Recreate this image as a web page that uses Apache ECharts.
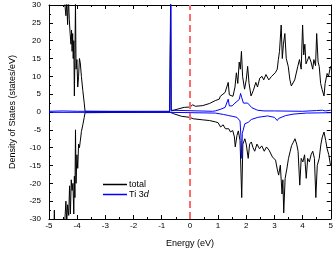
<!DOCTYPE html>
<html><head><meta charset="utf-8">
<script src="https://cdn.jsdelivr.net/npm/echarts@6/dist/echarts.min.js"></script>
<style>html,body{margin:0;padding:0;background:#fff}#c{width:336px;height:253px}</style>
</head><body><div id="c"></div>
<script>
const xTicks = [-5,-4,-3,-2,-1,0,1,2,3,4,5];
const yTicks = [-30,-25,-20,-15,-10,-5,0,5,10,15,20,25,30];
const legendNames = ['total','Ti 3d'];

const totalUpE = [-5.00,-4.80,-4.60,-4.48,-4.44,-4.40,-4.37,-4.34,-4.31,-4.28,-4.25,-4.22,-4.20,-4.18,-4.16,-4.14,-4.12,-4.10,-4.08,-4.06,-4.04,-4.01,-3.98,-3.95,-3.92,-3.89,-3.85,-3.80,-3.75,-3.72,-3.70,-0.72,-0.68,-0.66,-0.57,-0.40,-0.20,0.00,0.10,0.20,0.46,0.70,0.90,1.04,1.08,1.15,1.25,1.30,1.36,1.40,1.45,1.53,1.60,1.65,1.70,1.75,1.79,1.83,1.87,1.94,2.00,2.05,2.10,2.17,2.25,2.34,2.40,2.48,2.56,2.62,2.70,2.80,2.90,3.03,3.10,3.14,3.18,3.24,3.28,3.32,3.37,3.42,3.49,3.55,3.60,3.66,3.72,3.78,3.83,3.89,3.95,4.00,4.04,4.08,4.12,4.18,4.23,4.30,4.36,4.40,4.46,4.50,4.55,4.59,4.64,4.69,4.76,4.80,4.87,4.92,4.99];
const totalUp  = [45,42,38,34,30.5,27,31,24.5,32,26,22,19,23,17,22,15,20,4.5,16,31,12,14.7,7,10,15,13.8,10,6,2.5,0.2,0,0,35,0.3,0.5,0.9,1.3,1.4,2.0,1.6,1.8,2.4,3.2,3.6,4.4,4.2,5.5,5.2,8.3,4.8,5.2,4.4,7,11,8,14,12,17,10,6.4,9,12.8,8,4.5,6,8.3,7,9.5,10,9,10.5,9,10,11,12,14.7,17,24.4,15,19,22,15,12.8,9,7.3,7,9,8.5,12.8,14.7,12,24.4,16,19,13.5,14,15.6,14,12,14.7,13,22,14,12.8,8,6.4,4.5,8,10.8,10,12.8];

const totalDownE = [-5.00,-4.84,-4.81,-4.78,-4.60,-4.45,-4.40,-4.37,-4.34,-4.30,-4.27,-4.24,-4.21,-4.18,-4.15,-4.12,-4.10,-4.08,-4.06,-4.04,-4.01,-3.98,-3.95,-3.92,-3.89,-3.85,-3.80,-3.75,-3.72,-3.70,-0.72,-0.68,-0.57,-0.30,0.00,0.12,0.46,0.70,0.92,1.00,1.09,1.18,1.26,1.38,1.44,1.52,1.58,1.61,1.67,1.72,1.78,1.84,1.88,1.95,2.00,2.07,2.12,2.18,2.24,2.30,2.38,2.47,2.55,2.64,2.72,2.81,2.93,3.04,3.10,3.15,3.21,3.27,3.30,3.33,3.38,3.44,3.50,3.56,3.61,3.67,3.73,3.79,3.84,3.90,3.95,4.01,4.07,4.13,4.18,4.24,4.30,4.36,4.42,4.47,4.52,4.59,4.65,4.70,4.76,4.82,4.87,4.93,4.99];
const totalDown  = [-45,-38,-27.5,-38,-36,-32,-25,-31,-26,-29,-20.7,-28.6,-19,-22,-20,-28.6,-18,-24,-5,-20,-12,-15.8,-9,-10,-8.2,-5.5,-3.6,-1.5,-0.2,0,0,-0.3,-0.5,-1.2,-1.5,-1.9,-2.2,-2.4,-2.8,-3,-4.2,-3.6,-4.7,-4.7,-5.6,-5.2,-7,-9.8,-6.6,-5.3,-8,-24,-9,-7.5,-9,-13,-9,-8.4,-10,-11,-9,-10.3,-9.5,-11,-9.8,-10.7,-12.6,-13.5,-16,-17.7,-14.9,-23,-19,-28.3,-18.6,-16,-13,-11,-9.4,-8.5,-7.5,-9,-11,-20.5,-13,-14,-12,-18.6,-13,-14,-12,-11,-13,-24,-15,-13,-9,-7,-5.6,-8,-10.3,-12,-14.9];

const tiUpE = [-5.00,-4.50,-4.00,-0.72,-0.69,-0.68,-0.67,-0.60,0.80,0.90,1.10,1.25,1.32,1.36,1.40,1.50,1.60,1.67,1.75,1.80,1.84,1.90,1.95,2.05,2.12,2.20,2.24,2.40,2.63,3.00,4.00,4.50,4.70,4.80,5.00];
const tiUp  = [0.2,0.3,0.2,0.2,20,38,0.5,0.2,0.2,0.3,0.8,1.3,1.8,3.6,1.7,1.7,2.5,2.8,3.5,5.2,4,2.5,2,2.5,2.2,1.2,0.8,0.5,0.3,0.3,0.2,0.4,0.5,0.3,0.5];

const tiDownE = [-5.00,-0.70,0.90,1.20,1.38,1.50,1.67,1.78,1.82,1.84,1.86,1.95,2.07,2.18,2.41,2.76,3.00,3.10,3.15,3.21,3.40,3.66,4.13,5.00];
const tiDown  = [-0.1,-0.1,-0.3,-0.7,-1,-1.2,-1.5,-2.5,-8,-13,-6,-3.3,-2.9,-2.1,-1.5,-1.1,-1.5,-2.4,-1.8,-1.4,-1,-0.6,-0.3,-0.2];

const zip = (e, v) => e.map((x, i) => [x, v[i]]);
const font = 'Liberation Sans, Arial, sans-serif';
const chart = echarts.init(document.getElementById('c'), null, {renderer: 'canvas'});

const baseX = {
  type: 'value', min: xTicks[0], max: xTicks[xTicks.length - 1], interval: 1,
  axisLine: {show: true, onZero: false, lineStyle: {color: '#000', width: 1}},
  axisTick: {show: true, inside: true, length: 4, lineStyle: {color: '#000'}},
  minorTick: {show: true, splitNumber: 2, length: 2, lineStyle: {color: '#000'}},
  splitLine: {show: false}
};
const baseY = {
  type: 'value', min: yTicks[0], max: yTicks[yTicks.length - 1], interval: 5,
  axisLine: {show: true, onZero: false, lineStyle: {color: '#000', width: 1}},
  axisTick: {show: true, inside: true, length: 4, lineStyle: {color: '#000'}},
  minorTick: {show: true, splitNumber: 2, length: 2, lineStyle: {color: '#000'}},
  splitLine: {show: false}
};

chart.setOption({
  animation: false,
  grid: {left: 41, right: 4, top: 5, bottom: 32, containLabel: false},
  xAxis: [
    Object.assign({}, baseX, {
      position: 'bottom', name: 'Energy (eV)', nameLocation: 'middle', nameGap: 20,
      nameTextStyle: {fontFamily: font, fontSize: 9, color: '#000'},
      axisLabel: {fontFamily: font, fontSize: 8, color: '#000', margin: 3}
    }),
    Object.assign({}, baseX, {position: 'top', axisLabel: {show: false}})
  ],
  yAxis: [
    Object.assign({}, baseY, {
      position: 'left', name: 'Density of States (states/eV)', nameLocation: 'middle', nameGap: 32,
      nameTextStyle: {fontFamily: font, fontSize: 9, color: '#000'},
      axisLabel: {fontFamily: font, fontSize: 8, color: '#000', margin: 8}
    }),
    Object.assign({}, baseY, {position: 'right', axisLabel: {show: false}})
  ],
  legend: {
    data: legendNames, orient: 'vertical', left: 103, top: 180, padding: 0,
    icon: 'rect', itemWidth: 24, itemHeight: 1.5, itemGap: 1,
    textStyle: {fontFamily: font, fontSize: 9, color: '#000', padding: [0, 0, 0, -3],
      rich: {i: {fontStyle: 'italic', fontFamily: font, fontSize: 9, color: '#000'}}},
    formatter: n => n === 'Ti 3d' ? 'Ti 3{i|d}' : n
  },
  series: [
    {name: legendNames[0], type: 'line', data: zip(totalUpE, totalUp), symbol: 'none',
      lineStyle: {color: '#000', width: 1}, itemStyle: {color: '#000'}, z: 2},
    {name: legendNames[0], type: 'line', data: zip(totalDownE, totalDown), symbol: 'none',
      lineStyle: {color: '#000', width: 1}, itemStyle: {color: '#000'}, z: 2},
    {name: legendNames[1], type: 'line', data: zip(tiUpE, tiUp), symbol: 'none',
      lineStyle: {color: '#0000ff', width: 1}, itemStyle: {color: '#0000ff'}, z: 3},
    {name: legendNames[1], type: 'line', data: zip(tiDownE, tiDown), symbol: 'none',
      lineStyle: {color: '#0000ff', width: 1}, itemStyle: {color: '#0000ff'}, z: 3,
      markLine: {silent: true, symbol: 'none', label: {show: false},
        lineStyle: {color: '#ff6b6b', type: [7, 4], width: 2},
        data: [{xAxis: 0}]}}
  ]
});
</script></body></html>
